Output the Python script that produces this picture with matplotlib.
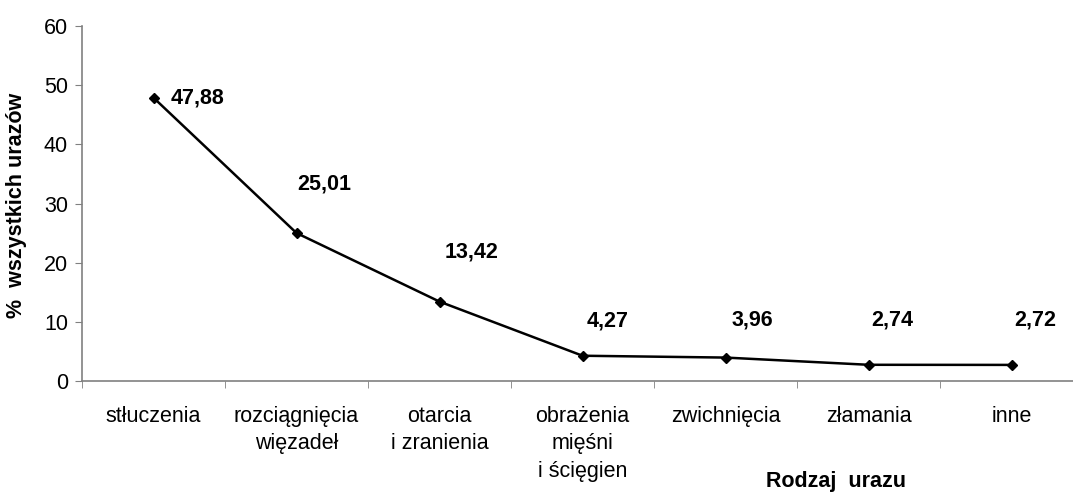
import matplotlib
matplotlib.use("Agg")
import matplotlib.pyplot as plt
from matplotlib.ticker import FixedLocator, NullFormatter

categories = ["stłuczenia", "rozciągnięcia\nwięzadeł", "otarcia\ni zranienia",
              "obrażenia\nmięśni\ni ścięgien", "zwichnięcia", "złamania", "inne"]
values = [47.88, 25.01, 13.42, 4.27, 3.96, 2.74, 2.72]
value_labels = ["47,88", "25,01", "13,42", "4,27", "3,96", "2,74", "2,72"]
yticks = [0, 10, 20, 30, 40, 50, 60]

plt.rcParams['font.family'] = ['Liberation Sans', 'DejaVu Sans']

fig = plt.figure(figsize=(10.73, 4.96), dpi=100)
W, H = 1073, 496
left, right, top, bottom = 82, 1083, 26, 381
ax = fig.add_axes([left / W, 1 - bottom / H, (right - left) / W, (bottom - top) / H])

x = list(range(len(categories)))
ax.plot(x, values, color="black", lw=1.8, marker="D", ms=5.5, zorder=3, clip_on=False)

# label placement (offsets in points) - layout only
offsets = [(12, 0), (20, 35), (23, 36), (18, 25), (19, 27), (17, 32), (17, 32)]
for i, (v, lab) in enumerate(zip(values, value_labels)):
    dx, dy = offsets[i]
    ha = "left" if i == 0 else "center"
    ax.annotate(lab, (i, v), xytext=(dx, dy), textcoords="offset points",
                ha=ha, va="center", fontsize=15.5, fontweight="bold")

ax.set_xlim(-0.5, len(categories) - 0.5)
ax.set_ylim(0, 60)
ax.set_yticks(yticks)
ax.set_yticklabels([str(t) for t in yticks], fontsize=15.5)
ax.set_xticks(x)
ax.set_xticklabels(categories, fontsize=15.5, linespacing=1.4, va="top")
ax.tick_params(axis="x", which="major", length=0, pad=18)
ax.xaxis.set_minor_locator(FixedLocator([i - 0.5 for i in range(len(categories) + 1)]))
ax.xaxis.set_minor_formatter(NullFormatter())
ax.tick_params(axis="x", which="minor", length=5, color="#808080", direction="out")
ax.tick_params(axis="y", length=5, color="#808080", direction="out", pad=5)

for s in ["top", "right"]:
    ax.spines[s].set_visible(False)
for s in ["left", "bottom"]:
    ax.spines[s].set_color("#808080")
    ax.spines[s].set_linewidth(1.2)

fig.text(17 / W, 1 - 205 / H, "%  wszystkich urazów", rotation=90, fontsize=15.5,
         fontweight="bold", ha="center", va="center")
fig.text(836 / W, 1 - 481 / H, "Rodzaj  urazu", fontsize=15.5, fontweight="bold",
         ha="center", va="center")

fig.savefig("out.png", dpi=100)
